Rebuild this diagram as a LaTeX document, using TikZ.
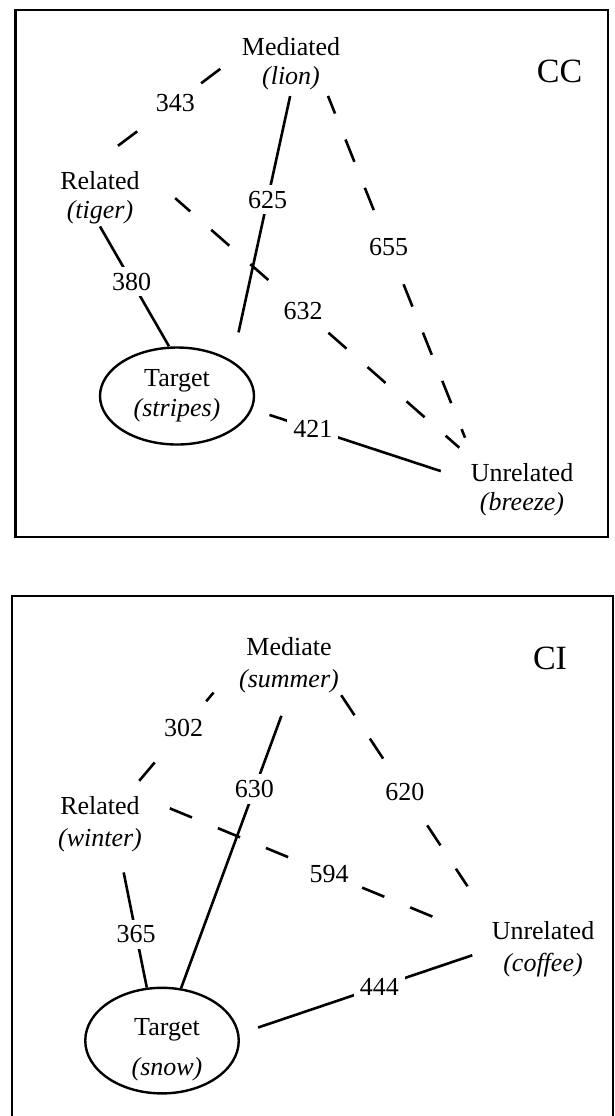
\documentclass[tikz,border=0pt]{standalone}
\usepackage{fontspec}
\setmainfont{Liberation Serif}
\usetikzlibrary{shapes.geometric}

\tikzstyle{mot}=[align=center, inner sep=1pt]
\tikzstyle{cible}=[draw, ellipse, align=center, line width=1.2pt, inner sep=0pt]
\tikzstyle{score}=[fill=white, inner sep=3pt]
\tikzstyle{plein}=[line width=1.3pt]
\tikzstyle{tirets}=[line width=1.3pt, dash pattern=on 12pt off 14pt]
\tikzstyle{cadre}=[draw, line width=1.2pt]
\tikzstyle{titre}=[font=\fontsize{17}{20}\selectfont]

\begin{document}
\begin{tikzpicture}[
        x=0.5pt, y=-0.5pt,
        every node/.style={font=\fontsize{13}{14.5}\selectfont}
    ]
    \useasboundingbox (0,0) rectangle (615,1116);

    % panneau CC
    \draw[cadre] (15.5,10) rectangle (608,537);
    \node[mot] (medCC) at (291,63.5) {Mediated\\\textit{(lion)}};
    \node[mot] (relCC) at (100,197.8) {Related\\\textit{(tiger)}};
    \node[mot] (nonrelCC) at (522,489.6) {Unrelated\\\textit{(breeze)}};
    \node[cible, minimum width=77pt, minimum height=48.5pt, font=\fontsize{13}{15}\selectfont]
        (cibleCC) at (177,396) {Target\\\textit{(stripes)}};
    \node[titre] (titreCC) at (559.5,71.6) {CC};

    \draw[tirets, shorten <=19.4pt, shorten >=9.6pt] ([xshift=-6.5pt]relCC.north)
        -- node[score, pos=0.58] {343} (medCC.170);
    \draw[plein, shorten <=2pt, shorten >=14.6pt] (medCC.south)
        -- node[score, pos=0.40] {625} (cibleCC.north east);
    \draw[tirets, dash phase=2.5pt, shorten <=2pt, shorten >=12.5pt] ([xshift=-8pt]medCC.south east)
        -- node[score, pos=0.42] {655} ([xshift=3pt]nonrelCC.north west);
    \draw[plein] (relCC.south)
        -- node[score, pos=0.46] {380} ([xshift=-4pt]cibleCC.north);
    \draw[tirets, dash phase=2pt, shorten <=22pt, shorten >=10pt] (relCC.north east)
        -- node[score, pos=0.485] {632} ([xshift=3pt]nonrelCC.north west);
    \draw[plein, shorten <=9pt, shorten >=14.5pt] (cibleCC.-10)
        -- node[score, pos=0.28] {421} (nonrelCC.170);

    % panneau CI
    \draw[cadre] (12,596) rectangle (613,1120);
    \node[mot, font=\fontsize{13}{16}\selectfont] (medCI) at (289,665) {Mediate\\\textit{(summer)}};
    \node[mot, font=\fontsize{13}{16}\selectfont] (relCI) at (100,824) {Related\\\textit{(winter)}};
    \node[mot, font=\fontsize{13}{16}\selectfont] (nonrelCI) at (543,949.5) {Unrelated\\\textit{(coffee)}};
    \node[cible, minimum width=76.75pt, minimum height=52.8pt] (cibleCI) at (162,1040.6) {};
    \node[mot, font=\fontsize{13}{20}\selectfont] (texteCI) at (167,1050) {Target\\\textit{(snow)}};
    \node[titre] (titreCI) at (550,658.5) {CI};

    \draw[tirets, shorten <=8.5pt, shorten >=18pt] ([xshift=-8pt]relCI.north east)
        -- node[score, pos=0.51] {302} (medCI.west);
    \draw[plein, shorten <=11pt] (medCI.south)
        -- node[score, pos=0.32] {630} (cibleCI.70);
    \draw[tirets, shorten >=19.8pt] (medCI.south east)
        -- node[score, pos=0.43] {620} (nonrelCI.north west);
    \draw[tirets, shorten <=13.8pt, shorten >=22.8pt] ([yshift=-2pt]relCI.north east)
        -- node[score, pos=0.536] {594} (nonrelCI.170);
    \draw[plein, shorten <=9.3pt] ([xshift=10pt]relCI.south)
        -- node[score, pos=0.6] {365} (cibleCI.106);
    \draw[plein, shorten <=9.9pt, shorten >=9pt] (cibleCI.5)
        -- node[score, pos=0.56] {444} (nonrelCI.west);

\end{tikzpicture}
\end{document}
